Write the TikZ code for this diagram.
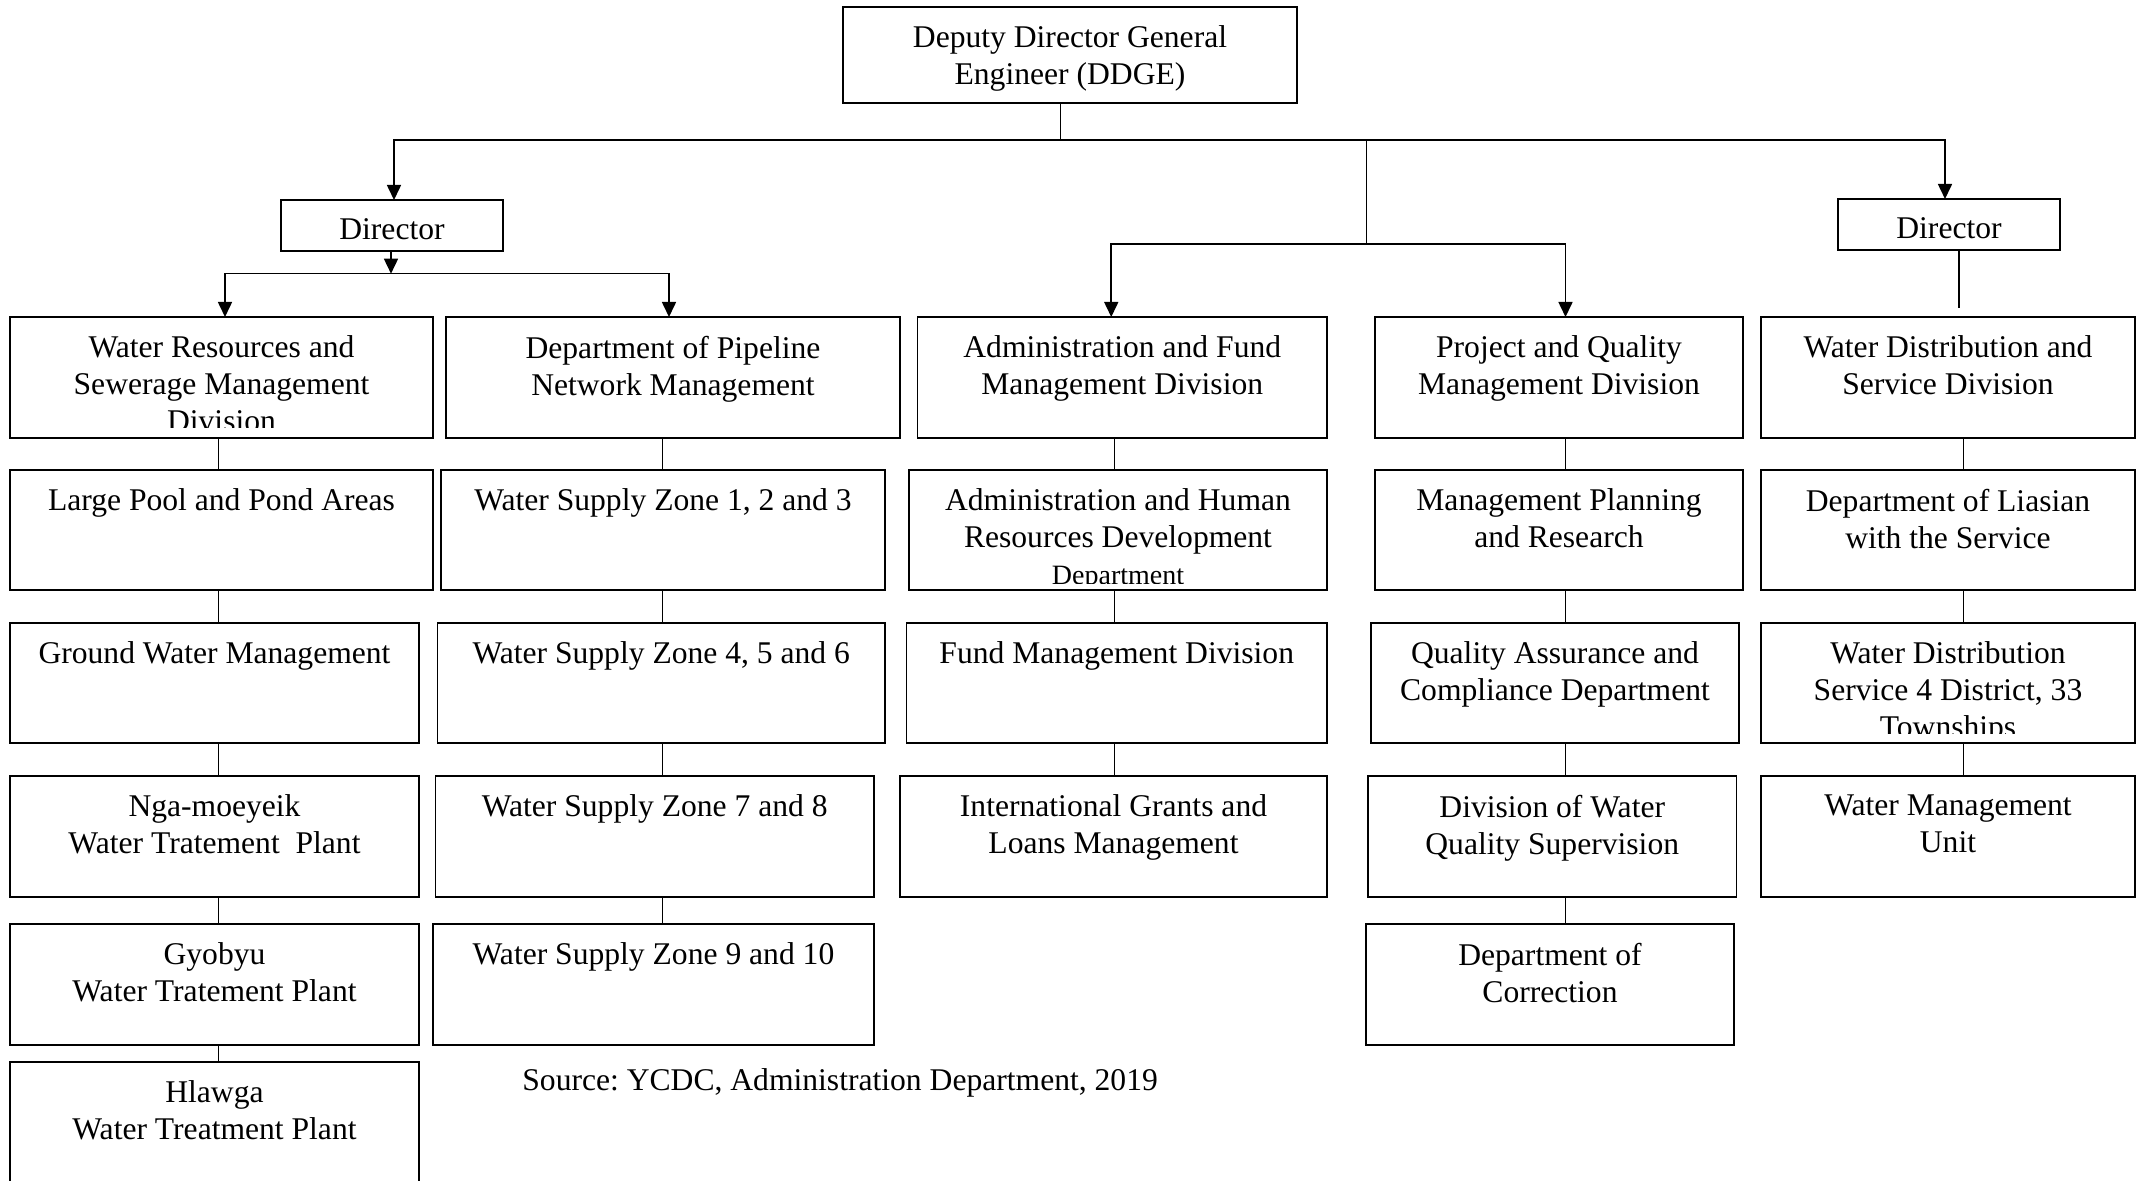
\documentclass[tikz,border=0pt]{standalone}
\usepackage{fontspec}
\setmainfont{Liberation Serif}
\frenchspacing
\usetikzlibrary{arrows.meta}
\tikzset{
  obox/.style={draw, line width=0.65pt, inner sep=0pt, outer sep=0pt},
  otxt/.style={anchor=north, align=center, inner sep=0pt, font=\fontsize{15.8pt}{18.5pt}\selectfont},
  arr/.style={line width=0.8pt, -{Triangle[length=7.5pt,width=7pt]}},
  bar/.style={line width=0.75pt},
  conn/.style={line width=0.5pt},
}
\newcommand\obox[6]{%
  \node[obox, minimum width={(#4-#2)*0.5pt}, minimum height={(#5-#3)*0.5pt}] (#1) at ({(#2+#4)/2},{(#3+#5)/2}) {};
  \node[otxt] (#1-t) at ([yshift=-9.25pt]#1.north) {#6};}
\newcommand\oboxc[7]{%
  \node[obox, minimum width={(#4-#2)*0.5pt}, minimum height={(#5-#3)*0.5pt}] (#1) at ({(#2+#4)/2},{(#3+#5)/2}) {};
  \begin{scope}
    \clip (#1.north west) rectangle ([yshift=#7]#1.south east);
    \node[otxt] (#1-t) at ([yshift=-9.25pt]#1.north) {#6};
  \end{scope}}
\begin{document}
\begin{tikzpicture}[x=0.5pt, y=-0.5pt]
\path[use as bounding box, fill=white] (0,0) rectangle (2144,1181);

% top levels
\obox{ddge}{843}{7}{1297}{103}{Deputy Director General\\Engineer (DDGE)}
\obox{dirL}{281}{200}{503}{251}{Director}
\obox{dirR}{1838}{199}{2060}{250}{Director}

% row 1
\oboxc{B11}{10}{317}{433}{438}{Water Resources and\\Sewerage Management\\Division}{5pt}
\obox{B12}{446}{317}{900}{438}{Department of Pipeline\\Network Management}
\obox{B13}{917.5}{317}{1327}{438}{Administration and Fund\\Management Division}
\obox{B14}{1375}{317}{1743}{438}{Project and Quality\\Management Division}
\obox{B15}{1761}{317}{2135}{438}{Water Distribution and\\Service Division}
% row 2
\obox{B21}{10}{470}{433}{590}{Large Pool and Pond Areas}
\obox{B22}{441}{470}{885}{590}{Water Supply Zone 1, 2 and 3}
\oboxc{B23}{909}{470}{1327}{590}{Administration and Human\\Resources Development\\{\fontsize{14pt}{16pt}\selectfont Department}}{3.3pt}
\obox{B24}{1375}{470}{1743}{590}{Management Planning\\and Research}
\obox{B25}{1761}{470}{2135}{590}{Department of Liasian\\with the Service}
% row 3
\obox{B31}{10}{623}{419}{743}{Ground Water Management}
\obox{B32}{437.5}{623}{885}{743}{Water Supply Zone 4, 5 and 6}
\obox{B33}{906.5}{623}{1327}{743}{Fund Management Division}
\obox{B34}{1371}{623}{1739}{743}{Quality Assurance and\\Compliance Department}
\oboxc{B35}{1761}{623}{2135}{743}{Water Distribution\\Service 4 District, 33\\Townships}{4.5pt}
% row 4
\obox{B41}{10}{776}{419}{897}{Nga-moeyeik\\Water Tratement~ Plant}
\obox{B42}{435.5}{776}{874}{897}{Water Supply Zone 7 and 8}
\obox{B43}{900}{776}{1327}{897}{International Grants and\\Loans Management}
\obox{B44}{1368}{776}{1736.5}{897}{Division of Water\\Quality Supervision}
\obox{B45}{1761}{776}{2135}{897}{Water Management\\Unit}
% row 5
\obox{B51}{10}{924}{419}{1045}{Gyobyu\\Water Tratement Plant}
\obox{B52}{433}{924}{874}{1045}{Water Supply Zone 9 and 10}
\obox{B54}{1366}{924}{1734}{1045}{Department of\\Correction}
% row 6
\obox{B61}{10}{1062}{419}{1200}{Hlawga\\Water Treatment Plant}

\node[anchor=west, inner sep=0pt, font=\fontsize{15.8pt}{18.5pt}\selectfont] (src) at (522,1083) {Source: YCDC, Administration Department, 2019};

% junction coordinates
\coordinate (j0) at (1060,140);
\coordinate (j1) at (1366,140);
\coordinate (j2) at (1366,244);
\coordinate (jL) at (391,273.7);
\coordinate (dRend) at (1959,308);

% connectors from DDGE
\draw[conn] (j0 |- ddge.south) -- (j0);
\draw[arr] (j0) -| ([xshift=1pt]dirL.north);
\draw[arr] (j0) -| ([xshift=-2pt]dirR.north);
\draw[conn] (j1) -- (j2);
\draw[arr] (j2) -| ([xshift=-5.5pt]B13.north);
\draw[arr] (j2) -| ([xshift=3.25pt]B14.north);

% left director
\draw[arr] (dirL.south -| jL) -- (jL);
\draw[arr] (jL) -| ([xshift=1.75pt]B11.north);
\draw[arr] (jL) -| ([xshift=-2pt]B12.north);

% right director stem (open end)
\draw[line width=0.65pt] (dirR.south -| dRend) -- (dRend);

% column connectors
\coordinate (k1) at (218.5,0);
\coordinate (k2) at (662,0);
\coordinate (k3) at (1114.5,0);
\coordinate (k4) at (1565.5,0);
\coordinate (k5) at (1963,0);

\draw[conn] (k1 |- B11.south) -- (k1 |- B21.north);
\draw[conn] (k1 |- B21.south) -- (k1 |- B31.north);
\draw[conn] (k1 |- B31.south) -- (k1 |- B41.north);
\draw[conn] (k1 |- B41.south) -- (k1 |- B51.north);
\draw[conn] (k1 |- B51.south) -- (k1 |- B61.north);

\draw[conn] (k2 |- B12.south) -- (k2 |- B22.north);
\draw[conn] (k2 |- B22.south) -- (k2 |- B32.north);
\draw[conn] (k2 |- B32.south) -- (k2 |- B42.north);
\draw[conn] (k2 |- B42.south) -- (k2 |- B52.north);

\draw[conn] (k3 |- B13.south) -- (k3 |- B23.north);
\draw[conn] (k3 |- B23.south) -- (k3 |- B33.north);
\draw[conn] (k3 |- B33.south) -- (k3 |- B43.north);

\draw[conn] (k4 |- B14.south) -- (k4 |- B24.north);
\draw[conn] (k4 |- B24.south) -- (k4 |- B34.north);
\draw[conn] (k4 |- B34.south) -- (k4 |- B44.north);
\draw[conn] (k4 |- B44.south) -- (k4 |- B54.north);

\draw[conn] (k5 |- B15.south) -- (k5 |- B25.north);
\draw[conn] (k5 |- B25.south) -- (k5 |- B35.north);
\draw[conn] (k5 |- B35.south) -- (k5 |- B45.north);
\end{tikzpicture}
\end{document}
